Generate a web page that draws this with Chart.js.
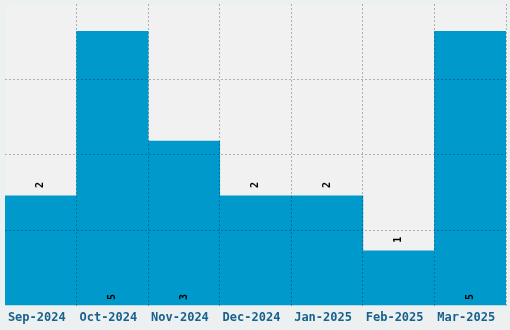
<!DOCTYPE html>
<html>
<head>
<meta charset="utf-8">
<script src="https://cdn.jsdelivr.net/npm/chart.js@4"></script>
<style>
  html, body { margin: 0; padding: 0; background: #edf0f1; }
  #wrap { width: 510px; height: 330px; }
</style>
</head>
<body>
<div id="wrap"><canvas id="chart"></canvas></div>
<script>
// data
const months = ['Sep-2024', 'Oct-2024', 'Nov-2024', 'Dec-2024', 'Jan-2025', 'Feb-2025', 'Mar-2025'];
const counts = [2, 5, 3, 2, 2, 1, 5];

const gridColor = 'rgba(0, 0, 0, 0.27)';

// light plot background behind the bars
const plotBackground = {
  id: 'plotBackground',
  beforeDraw(chart) {
    const { ctx, chartArea: a } = chart;
    ctx.save();
    ctx.fillStyle = '#f1f1f1';
    ctx.fillRect(a.left, a.top + 1, a.right - a.left, a.bottom - a.top - 1);
    ctx.restore();
  }
};

// rotated value labels: above short bars, inside the base of tall ones
const valueLabels = {
  id: 'valueLabels',
  afterDraw(chart) {
    const { ctx } = chart;
    const meta = chart.getDatasetMeta(0);
    ctx.save();
    ctx.font = 'bold 10px "DejaVu Sans Mono", monospace';
    ctx.fillStyle = '#000';
    ctx.textBaseline = 'middle';
    ctx.textAlign = 'left';
    meta.data.forEach((bar, i) => {
      const v = counts[i];
      ctx.save();
      ctx.translate(bar.x, 0);
      ctx.rotate(-Math.PI / 2);
      const start = v >= 3 ? bar.base - 5 : bar.y - 8;
      ctx.fillText(String(v), -start, 0);
      ctx.restore();
    });
    ctx.restore();
  }
};

new Chart(document.getElementById('chart'), {
  type: 'bar',
  data: {
    labels: months,
    datasets: [{
      data: counts,
      backgroundColor: '#0099cc',
      borderWidth: 0,
      categoryPercentage: 1,
      barPercentage: 1
    }]
  },
  options: {
    responsive: true,
    maintainAspectRatio: false,
    animation: false,
    layout: { padding: { left: 5, right: 4, top: 4, bottom: 0 } },
    plugins: {
      legend: { display: false },
      tooltip: { enabled: false }
    },
    scales: {
      x: {
        grid: {
          z: 1,
          offset: true,
          drawTicks: false,
          color: ctx => (ctx.index === 0 || ctx.index === months.length) ? 'transparent' : gridColor
        },
        border: { display: false, dash: [2, 2] },
        ticks: {
          padding: 5,
          labelOffset: -4,
          color: '#19618f',
          font: { family: '"DejaVu Sans Mono", monospace', size: 12, weight: 'bold' },
          maxRotation: 0
        }
      },
      y: {
        min: 0,
        max: 5.5,
        border: { display: false, dash: [2, 2] },
        grid: {
          z: 1,
          drawTicks: false,
          color: ctx => (ctx.index === 0 || ctx.index === 4) ? 'transparent' : gridColor
        },
        ticks: { display: false, count: 5 }
      }
    }
  },
  plugins: [plotBackground, valueLabels]
});
</script>
</body>
</html>
